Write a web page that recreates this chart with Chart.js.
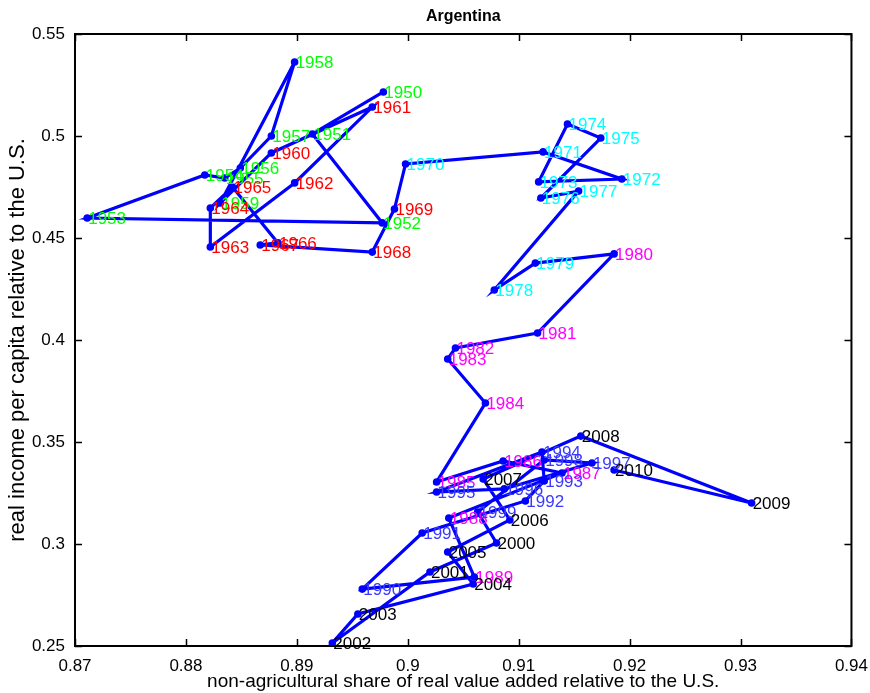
<!DOCTYPE html>
<html>
<head>
<meta charset="utf-8">
<script src="https://cdn.jsdelivr.net/npm/chart.js@4.4.1/dist/chart.umd.min.js"></script>
<style>
  body { margin: 0; background: #fff; }
  canvas { display: block; }
</style>
</head>
<body>
<canvas id="chart" width="870" height="693"></canvas>
<script>
// years 1950 .. 2010
const years = [
    1950, 1951, 1952, 1953, 1954, 1955, 1956, 1957, 1958, 1959,
    1960, 1961, 1962, 1963, 1964, 1965, 1966, 1967, 1968, 1969,
    1970, 1971, 1972, 1973, 1974, 1975, 1976, 1977, 1978, 1979,
    1980, 1981, 1982, 1983, 1984, 1985, 1986, 1987, 1988, 1989,
    1990, 1991, 1992, 1993, 1994, 1995, 1996, 1997, 1998, 1999,
    2000, 2001, 2002, 2003, 2004, 2005, 2006, 2007, 2008, 2009,
    2010
];

// non-agricultural share of real value added relative to the U.S.
const nonAgShare = [
    0.8978, 0.8914, 0.8977, 0.8711, 0.8817, 0.8835, 0.8849, 0.8877, 0.8898, 0.8831,
    0.8877, 0.8968, 0.8898, 0.8822, 0.8822, 0.8842, 0.8883, 0.8867, 0.8968, 0.8988,
    0.8998, 0.9122, 0.9193, 0.9118, 0.9144, 0.9174, 0.9120, 0.9154, 0.9078, 0.9115,
    0.9186, 0.9117, 0.9043, 0.9036, 0.9070, 0.9026, 0.9086, 0.9139, 0.9037, 0.9060,
    0.8959, 0.9013, 0.9106, 0.9123, 0.9121, 0.9026, 0.9087, 0.9166, 0.9123, 0.9063,
    0.9080, 0.9020, 0.8932, 0.8955, 0.9059, 0.9036, 0.9092, 0.9068, 0.9156, 0.9310,
    0.9186
];

// real income per capita relative to the U.S.
const incomeRel = [
    0.5216, 0.5010, 0.4574, 0.4598, 0.4809, 0.4794, 0.4843, 0.5000, 0.5363, 0.4672,
    0.4917, 0.5142, 0.4770, 0.4456, 0.4647, 0.4750, 0.4476, 0.4466, 0.4431, 0.4642,
    0.4863, 0.4922, 0.4789, 0.4775, 0.5059, 0.4990, 0.4696, 0.4730, 0.4245, 0.4377,
    0.4422, 0.4034, 0.3961, 0.3907, 0.3691, 0.3304, 0.3407, 0.3348, 0.3127, 0.2838,
    0.2779, 0.3054, 0.3211, 0.3309, 0.3451, 0.3255, 0.3270, 0.3397, 0.3412, 0.3157,
    0.3005, 0.2863, 0.2515, 0.2657, 0.2804, 0.2961, 0.3118, 0.3319, 0.3529, 0.3201,
    0.3363
];

// label colour per decade: 50s, 60s, 70s, 80s, 90s, 2000s
const decadeColors = ['#00ff00', '#ff0000', '#00ffff', '#ff00ff', '#3a3aff', '#000000'];

const xTicks = [0.87, 0.88, 0.89, 0.9, 0.91, 0.92, 0.93, 0.94];
const yTicks = [0.25, 0.3, 0.35, 0.4, 0.45, 0.5, 0.55];

const font = "'Liberation Sans', Arial, sans-serif";

// year labels next to each point
const yearLabels = {
    id: 'yearLabels',
    afterDatasetsDraw(chart) {
        const ctx = chart.ctx;
        const meta = chart.getDatasetMeta(0);
        ctx.save();
        ctx.font = '17px ' + font;
        ctx.textAlign = 'left';
        ctx.textBaseline = 'middle';
        meta.data.forEach((pt, i) => {
            const decade = Math.min(Math.floor((years[i] - 1950) / 10), decadeColors.length - 1);
            ctx.fillStyle = decadeColors[decade];
            ctx.fillText(String(years[i]), pt.x + 1, pt.y + 1);
        });
        ctx.restore();
    }
};

// matlab style box with inward ticks, title over the plot area
const boxTicks = {
    id: 'boxTicks',
    afterDraw(chart) {
        const { ctx, chartArea: a, scales } = chart;
        const len = 7;
        ctx.save();
        ctx.strokeStyle = '#000';
        ctx.lineWidth = 2;
        ctx.strokeRect(a.left, a.top, a.right - a.left, a.bottom - a.top);
        ctx.lineWidth = 1.5;
        ctx.beginPath();
        xTicks.forEach(v => {
            const px = Math.round(scales.x.getPixelForValue(v)) + 0.5;
            ctx.moveTo(px, a.bottom); ctx.lineTo(px, a.bottom - len);
            ctx.moveTo(px, a.top); ctx.lineTo(px, a.top + len);
        });
        yTicks.forEach(v => {
            const py = Math.round(scales.y.getPixelForValue(v)) + 0.5;
            ctx.moveTo(a.left, py); ctx.lineTo(a.left + len, py);
            ctx.moveTo(a.right, py); ctx.lineTo(a.right - len, py);
        });
        ctx.stroke();

        ctx.fillStyle = '#000';
        ctx.font = 'bold 16px ' + font;
        ctx.textAlign = 'center';
        ctx.textBaseline = 'middle';
        ctx.fillText('Argentina', (a.left + a.right) / 2, 17);
        ctx.restore();
    }
};

const fmt = v => String(Number(v.toFixed(2)));

new Chart(document.getElementById('chart').getContext('2d'), {
    type: 'scatter',
    data: {
        datasets: [{
            data: nonAgShare.map((x, i) => ({ x: x, y: incomeRel[i] })),
            showLine: true,
            borderColor: '#0000ff',
            backgroundColor: '#0000ff',
            borderWidth: 3.2,
            pointRadius: 3.8,
            pointBorderWidth: 0,
            tension: 0
        }]
    },
    options: {
        responsive: false,
        animation: false,
        layout: { padding: { left: 0, right: 18, top: 34, bottom: 0 } },
        scales: {
            x: {
                type: 'linear',
                min: 0.87,
                max: 0.94,
                afterBuildTicks: s => { s.ticks = xTicks.map(v => ({ value: v })); },
                afterFit: s => { s.height = 47; },
                grid: { display: false },
                border: { display: false },
                ticks: {
                    color: '#000',
                    padding: 2,
                    maxRotation: 0,
                    font: { family: font, size: 17 },
                    callback: fmt
                },
                title: {
                    display: true,
                    text: 'non-agricultural share of real value added relative to the U.S.',
                    color: '#000',
                    font: { family: font, size: 19 },
                    padding: { top: 0, bottom: 0 }
                }
            },
            y: {
                type: 'linear',
                min: 0.25,
                max: 0.55,
                afterBuildTicks: s => { s.ticks = yTicks.map(v => ({ value: v })); },
                afterFit: s => { s.width = 75; },
                grid: { display: false },
                border: { display: false },
                ticks: {
                    color: '#000',
                    padding: 2,
                    font: { family: font, size: 17 },
                    callback: fmt
                },
                title: {
                    display: true,
                    text: 'real income per capita relative to the U.S.',
                    color: '#000',
                    font: { family: font, size: 22 },
                    padding: { top: 5, bottom: 0 }
                }
            }
        },
        plugins: {
            legend: { display: false },
            tooltip: { enabled: false },
            title: { display: false }
        }
    },
    plugins: [yearLabels, boxTicks]
});
</script>
</body>
</html>
